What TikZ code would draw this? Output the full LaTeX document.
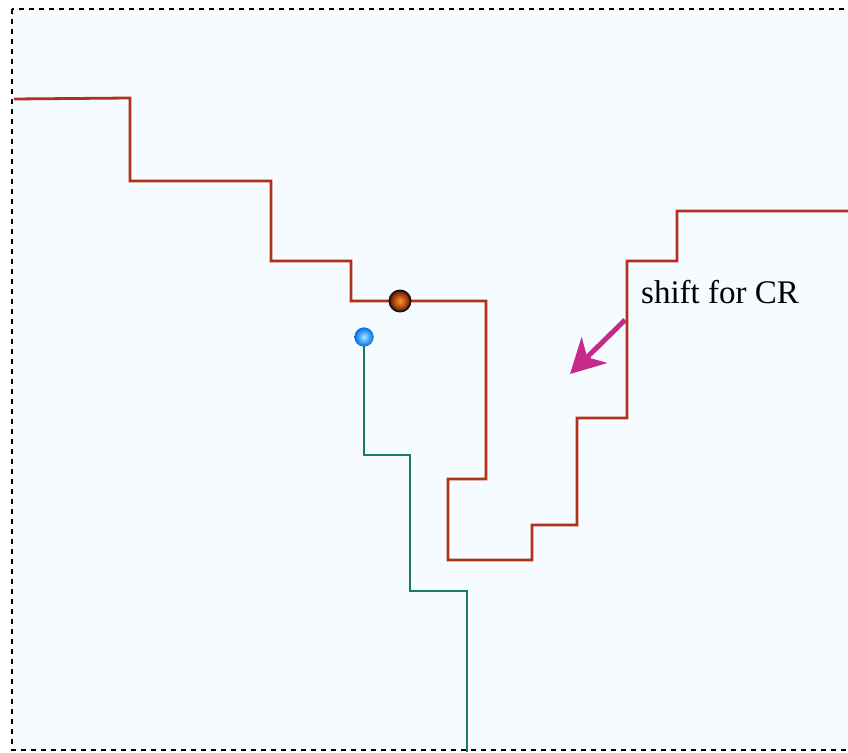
\documentclass[tikz,border=0pt]{standalone}
\usepackage{fontspec}
\setmainfont{Liberation Serif}
\usetikzlibrary{arrows.meta,shadings}
\definecolor{panel}{RGB}{245,251,254}
\definecolor{stepred}{RGB}{176,48,26}
\definecolor{stepteal}{RGB}{26,122,106}
\definecolor{shiftpink}{RGB}{200,40,140}
\definecolor{emberin}{RGB}{255,150,40}
\definecolor{emberout}{RGB}{120,20,0}
\definecolor{skyin}{RGB}{170,230,255}
\definecolor{skyout}{RGB}{0,110,235}
\tikzset{
  frame/.style={draw=black,line width=1.2pt,dash pattern=on 5pt off 5pt,fill=panel},
  redstep/.style={draw=stepred,line width=2.8pt,line join=miter},
  tealstep/.style={draw=stepteal,line width=2.8pt,line join=miter},
  orangeball/.style={circle,inner sep=0pt,minimum size=21pt,inner color=emberin,outer color=emberout,draw=black!90,line width=2pt},
  blueball/.style={circle,inner sep=0pt,minimum size=19pt,inner color=skyin,outer color=skyout},
  shiftarrow/.style={draw=shiftpink,line width=5pt,-{Stealth[length=34pt,width=36pt,inset=10pt]}},
  label/.style={font=\fontsize{33}{38}\selectfont,anchor=west,inner sep=0pt}
}
\begin{document}
\begin{tikzpicture}[x=1pt,y=-1pt]
  \useasboundingbox (0,0) rectangle (848,752);
  % panel
  \path[frame] (12,9) rectangle (852,750);
  % upper staircase
  \path[redstep] (14,99) -- (130,98) -- (130,181) -- (271,181) -- (271,261) -- (351,261)
    -- (351,301) -- (486,301) -- (486,479) -- (448,479) -- (448,560) -- (532,560)
    -- (532,525) -- (577,525) -- (577,418) -- (627,418) -- (627,261) -- (677,261)
    -- (677,211) -- (850,211);
  % lower staircase
  \node[blueball] (b) at (364,337) {};
  \coordinate (tend) at (467,752);
  \path[tealstep] (b.center) -- (364,455) -- (410,455) -- (410,591) -- (467,591) -- (tend);
  \node[blueball] at (364,337) {};
  \node[orangeball] (o) at (400,301) {};
  % label and arrow
  \node[label] (t) at (641,292) {shift for CR};
  \coordinate (as) at (625,320);
  \coordinate (ae) at (570,374);
  \draw[shiftarrow] (as) -- (ae);
\end{tikzpicture}
\end{document}
